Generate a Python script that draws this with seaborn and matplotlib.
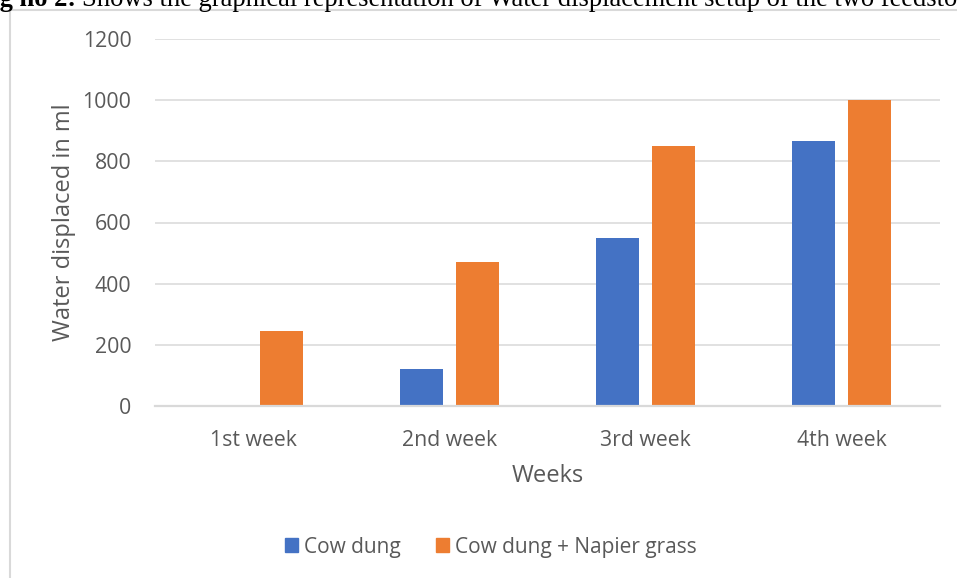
import matplotlib
matplotlib.use("Agg")
import matplotlib.pyplot as plt
import matplotlib.patches as mpatches
import pandas as pd
import seaborn as sns

# Weekly water displacement for the two feedstocks
weeks = ["1st week", "2nd week", "3rd week", "4th week"]
cow_dung = [0, 120, 550, 865]
cow_dung_napier = [245, 470, 850, 1000]
series_names = ["Cow dung", "Cow dung + Napier grass"]
y_ticks = [0, 200, 400, 600, 800, 1000, 1200]

colors = ["#4472C4", "#ED7D31"]
grid_col = "#D9D9D9"
text_col = "#595959"

df = pd.DataFrame({
    "Week": weeks * 2,
    "Value": cow_dung + cow_dung_napier,
    "Series": [series_names[0]] * len(weeks) + [series_names[1]] * len(weeks),
})

sns.set_theme(style="white")
plt.rcParams["font.family"] = ["Open Sans", "DejaVu Sans"]

W, H = 957, 578
fig = plt.figure(figsize=(W / 100, H / 100), dpi=100)
ax = fig.add_axes([155 / W, 1 - 406 / H, (940 - 155) / W, (406 - 39) / H])

sns.barplot(data=df, x="Week", y="Value", hue="Series", order=weeks,
            hue_order=series_names, palette=colors, saturation=1,
            width=0.571, gap=0.232, linewidth=0, ax=ax, legend=False)

ax.set_ylim(0, 1200)
ax.set_xlim(-0.5, len(weeks) - 0.5)
ax.set_yticks(y_ticks)
ax.set_yticklabels([str(v) for v in y_ticks])
ax.yaxis.grid(True, color=grid_col, linewidth=1.1)
ax.set_axisbelow(True)
for side in ["top", "right", "left"]:
    ax.spines[side].set_visible(False)
ax.spines["bottom"].set_color(grid_col)
ax.spines["bottom"].set_linewidth(1.6)
ax.tick_params(axis="both", length=0, labelsize=15.3, labelcolor=text_col)
ax.tick_params(axis="x", pad=17)
ax.tick_params(axis="y", pad=17)

ax.set_xlabel("Weeks", fontsize=17, color=text_col, labelpad=10)
ax.set_ylabel("Water displaced in ml", fontsize=17, color=text_col, labelpad=5)

# Legend below the plot area
handles = [mpatches.Patch(color=c, label=n) for c, n in zip(colors, series_names)]
fig.legend(handles=handles, loc="center", bbox_to_anchor=(491 / W, 1 - 547 / H),
           ncol=2, frameon=False, fontsize=15, handlelength=0.62,
           handleheight=0.62, handletextpad=0.3, columnspacing=1.68,
           labelcolor=text_col)

# Chart frame
fig.add_artist(plt.Line2D([9.5 / W, 9.5 / W], [0, 1 - 9.5 / H],
                          transform=fig.transFigure, color=grid_col, linewidth=1.5))
fig.add_artist(plt.Line2D([9.5 / W, 1], [1 - 9.5 / H, 1 - 9.5 / H],
                          transform=fig.transFigure, color=grid_col, linewidth=1.5))

# Figure caption running along the top edge
cap_size = 19.1
cap_font = ["Liberation Serif"]
renderer = fig.canvas.get_renderer()
probe = fig.text(0, 0, "Fi", fontsize=cap_size, fontweight="bold", family=cap_font)
lead_w = probe.get_window_extent(renderer).width
probe.remove()
base_y = 1 - 6.5 / H
bold_txt = fig.text(-lead_w / W, base_y, "Fig no 2:", fontsize=cap_size,
                    fontweight="bold", family=cap_font, va="baseline", ha="left",
                    color="black")
bold_w = bold_txt.get_window_extent(renderer).width
fig.text((bold_w - lead_w + 6) / W, base_y,
         "Shows the graphical representation of Water displacement setup of the two feedstocks",
         fontsize=cap_size, family=cap_font, va="baseline", ha="left", color="black")

fig.savefig("out.png", dpi=100)
